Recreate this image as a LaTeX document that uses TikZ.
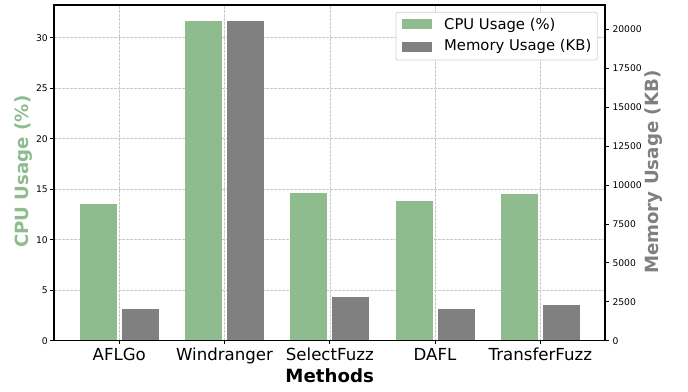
\documentclass[tikz,border=0pt]{standalone}
\usepackage{fontspec}
\setmainfont{DejaVu Sans}
\definecolor{cpugreen}{RGB}{143,188,143}
\definecolor{memgray}{RGB}{128,128,128}
\definecolor{gridgray}{RGB}{200,200,200}
\definecolor{legedge}{RGB}{210,210,210}
\begin{document}
\begin{tikzpicture}[x=1pt,y=1pt,
  gridline/.style={gridgray,line width=0.6pt,dash pattern=on 2.6pt off 1.4pt},
  spine/.style={black,line width=1.2pt},
  tickmark/.style={black,line width=0.8pt},
  ticklab/.style={font=\fontsize{9.2}{10}\selectfont,inner sep=0pt},
  catlab/.style={font=\fontsize{16.6}{18}\selectfont,inner sep=0pt,anchor=base},
  axlab/.style={font=\fontsize{18.2}{20}\selectfont\bfseries,inner sep=0pt,anchor=base},
  leglab/.style={font=\fontsize{14.8}{16}\selectfont,inner sep=0pt,anchor=base west}]
     \useasboundingbox (-54,-50.3) rectangle (634,340.7);
     \def\W{551} \def\H{335.7} \def\dx{105.25} \def\xo{65.3}
     \def\cs{10.1} \def\ms{15.57} \def\bw{18.5}
     % grid of the left axis
     \foreach \v in {5,10,...,30}
      \draw[gridline] (0,{\v*\cs}) -- (\W,{\v*\cs});
     \foreach \i in {0,...,4}
      \draw[gridline] ({\xo+\i*\dx},0) -- ({\xo+\i*\dx},\H);
     % bars, memory in thousands of KB
     \foreach \i/\c/\m/\name in {0/13.53/2.036/AFLGo,1/31.65/20.533/Windranger,
       2/14.62/2.807/SelectFuzz,3/13.83/2.036/DAFL,4/14.52/2.293/TransferFuzz} {
      \fill[cpugreen] ({\xo+\i*\dx-21.05-\bw},0) rectangle ({\xo+\i*\dx-21.05+\bw},{\c*\cs});
      \fill[memgray]  ({\xo+\i*\dx+21.05-\bw},0) rectangle ({\xo+\i*\dx+21.05+\bw},{\m*\ms});
      \draw[tickmark] ({\xo+\i*\dx},0) -- ({\xo+\i*\dx},-3.5);
      \node[catlab] (cat\i) at ({\xo+\i*\dx},-20) {\name};
     }
     % left ticks
     \foreach \v in {0,5,...,30} {
      \draw[tickmark] (-3.5,{\v*\cs}) -- (0,{\v*\cs});
      \node[ticklab,anchor=east] (yl\v) at (-6,{\v*\cs}) {\v};
     }
     % right ticks
     \foreach \v/\t in {0/0,2.5/2500,5/5000,7.5/7500,10/10000,12.5/12500,15/15000,17.5/17500,20/20000} {
      \draw[tickmark] (\W,{\v*\ms}) -- ({\W+3.5},{\v*\ms});
      \node[ticklab,anchor=west] (yr\t) at (558.3,{\v*\ms}) {\t};
     }
     % axis labels
     \node[axlab,cpugreen,rotate=90] (cpulab) at (-25.7,169) {CPU Usage (\%)};
     \node[axlab,memgray,rotate=90] (memlab) at (604,168.4) {Memory Usage (KB)};
     \node[axlab] (xlab) at (275.7,-41.6) {Methods};
     % legend
     \draw[legedge,fill=white,line width=0.8pt,rounded corners=2pt] (342,280.7) rectangle (543.3,328.4);
     \fill[cpugreen] (348,311.4) rectangle (377.7,321.4);
     \fill[memgray]  (348,289) rectangle (377.7,299);
     \node[leglab] (leg1) at (390,311.4) {CPU Usage (\%)};
     \node[leglab] (leg2) at (390,290) {Memory Usage (KB)};
     % frame
     \draw[spine] (0,0) rectangle (\W,\H);
    \end{tikzpicture}
\end{document}
